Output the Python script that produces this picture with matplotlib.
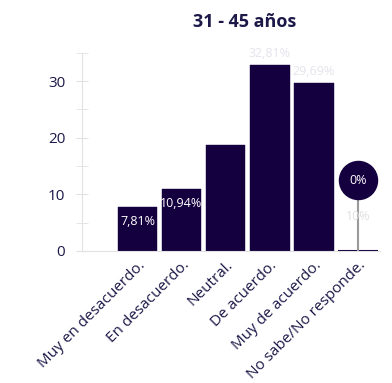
import matplotlib.pyplot as plt

categorias = ['Muy en desacuerdo.', 'En desacuerdo.', 'Neutral.', 'De acuerdo.',
              'Muy de acuerdo.', 'No sabe/No responde.']
valores = [7.81, 10.94, 18.75, 32.81, 29.69, 0]
etiquetas = ['7,81%', '10,94%', '', '32,81%', '29,69%', '']

plt.rcParams['font.family'] = ['Open Sans', 'DejaVu Sans']
oscuro = '#14003f'
texto = '#1c1848'

fig = plt.figure(figsize=(3.92, 3.83), dpi=100)
ax = fig.add_axes([0.209, 0.345, 0.76, 0.517])

x = list(range(len(categorias)))
# borde más grueso solo para la barra en cero, para que se vea la línea
bordes = [1.5 if v == 0 else 0.3 for v in valores]
ax.bar(x, valores, width=0.9, color=oscuro, edgecolor=oscuro, linewidth=bordes)

for i, (v, t) in enumerate(zip(valores, etiquetas)):
    if not t:
        continue
    if v > 25:
        ax.text(i, v + 0.9, t, ha='center', va='bottom', color='#e4e4ec', fontsize=9)
    else:
        ax.text(i, v - 1.4, t, ha='center', va='top', color='white', fontsize=9)

# marcador para el valor cero
ult = len(categorias) - 1
ax.plot([ult, ult], [0, 12.5], color='#9a9a9a', lw=1.5, zorder=1)
ax.scatter([ult], [12.5], s=750, color=oscuro, zorder=3)
ax.text(ult, 12.5, '0%', ha='center', va='center', color='white', fontsize=9, zorder=4)
ax.text(ult, 6.1, '10%', ha='center', va='center', color='#e0e0e0', fontsize=9, zorder=2)

ax.set_xlim(-1.26, 5.5)
ax.set_ylim(0, 35)
ax.set_xticks(x)
ax.set_xticklabels(categorias, rotation=45, ha='right', rotation_mode='anchor',
                   fontsize=11, color=texto)
ax.set_yticks([0, 10, 20, 30])
ax.set_yticks([5, 15, 25, 35], minor=True)
ax.tick_params(axis='y', which='both', direction='inout', length=8, color='#e2e2e2',
               labelsize=11, labelcolor=texto, pad=8)
ax.tick_params(axis='x', length=0, pad=5)

for s in ['top', 'right']:
    ax.spines[s].set_visible(False)
ax.spines['left'].set_color('#e2e2e2')
ax.spines['bottom'].set_color('#e2e2e2')

fig.text(0.625, 0.942, '31 - 45 años', ha='center', va='center', fontsize=13,
         fontweight='bold', color=texto)

fig.savefig('out.png', dpi=100)
